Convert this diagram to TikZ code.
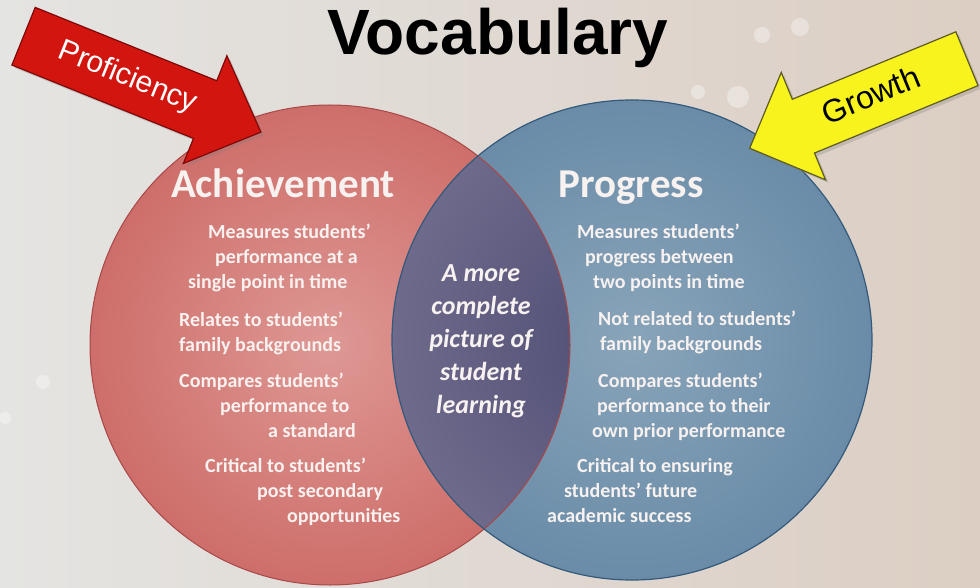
\documentclass[tikz,border=0pt]{standalone}
\usepackage{fontspec}
\setmainfont{Carlito}
\newfontfamily\arialfont{Liberation Sans}
\usetikzlibrary{shapes.arrows,shadows}

\definecolor{bgleft}{HTML}{E4E4E2}
\definecolor{bgright}{HTML}{DCCEC3}
\definecolor{achin}{HTML}{DE9894}
\definecolor{achout}{HTML}{CE6E6A}
\definecolor{achedge}{HTML}{A84848}
\definecolor{progin}{HTML}{88A4B9}
\definecolor{progout}{HTML}{6A8CA8}
\definecolor{progedge}{HTML}{34597A}
\definecolor{bothin}{HTML}{4E4C74}
\definecolor{bothout}{HTML}{6E6A8B}
\definecolor{txtwhite}{HTML}{F7F1F0}
\definecolor{profred}{HTML}{D3150F}
\definecolor{profedge}{HTML}{7E0808}
\definecolor{growyellow}{HTML}{F8F31C}
\definecolor{growedge}{HTML}{5E5B22}

\begin{document}
\begin{tikzpicture}[x=1pt, y=1pt,
  every node/.style = {inner sep=0pt},
  venn/.style = {circle, minimum size=480pt},
  heading/.style = {font=\fontsize{41}{41}\selectfont\bfseries, text=txtwhite, anchor=base},
  bullets/.style = {font=\fontsize{20}{25}\selectfont\bfseries, text=txtwhite, align=left, anchor=base west},
  middle/.style = {font=\fontsize{26}{33}\selectfont\bfseries\itshape, text=txtwhite, align=center, anchor=base},
  bigarrow/.style = {single arrow, anchor=tail, line width=1.2pt, single arrow head indent=0pt,
    drop shadow={opacity=0.3, shadow xshift=3pt, shadow yshift=-3pt}},
  ]
  \useasboundingbox (0,0) rectangle (980,-588);
  \shade[left color=bgleft, right color=bgright] (0,0) rectangle (980,-588);
  \fill[white, opacity=0.35] (762,-35) circle (8) (800,-27) circle (9) (698,-92) circle (7)
    (738,-97) circle (11) (43,-382) circle (7) (5,-418) circle (6);

  \node[venn, shade, inner color=achin, outer color=achout] (ach) at (330,-345) {};
  \node[venn, shade, inner color=progin, outer color=progout] (prog) at (632,-340) {};
  \begin{scope}
    \clip (ach.center) circle (240);
    \shade[inner color=bothin, outer color=bothout] (prog.center) circle (240);
  \end{scope}
  \draw[achedge, line width=1pt] (ach.center) circle (240);
  \draw[progedge, line width=1.2pt] (prog.center) circle (240);

  \node[heading] (achhead) at (283,-198) {Achievement};
  \node[bullets] (ach1) at (188,-288) {\hspace*{20pt}Measures students’\\ \hspace*{27pt}performance at a\\ single point in time};
  \node[bullets] (ach2) at (179,-351) {Relates to students’\\ family backgrounds};
  \node[bullets] (ach3) at (179,-437) {Compares students’\\ \hspace*{41pt}performance to\\ \hspace*{89pt}a standard};
  \node[bullets] (ach4) at (205,-522) {Critical to students’\\ \hspace*{52pt}post secondary\\ \hspace*{82pt}opportunities};

  \node[heading] (proghead) at (631,-198) {Progress};
  \node[bullets] (prog1) at (577,-288) {Measures students’\\ \hspace*{8pt}progress between\\ \hspace*{16pt}two points in time};
  \node[bullets] (prog2) at (598,-350) {Not related to students’\\ \hspace*{2pt}family backgrounds};
  \node[bullets] (prog3) at (592,-437) {\hspace*{6pt}Compares students’\\ \hspace*{5pt}performance to their\\ own prior performance};
  \node[bullets] (prog4) at (547,-522) {\hspace*{30pt}Critical to ensuring\\ \hspace*{17pt}students’ future\\ academic success};

  \node[middle] (both) at (481,-413) {A more\\ complete\\ picture of\\ student\\ learning};

  \node[bigarrow, fill=profred, draw=profedge, text=white, font=\arialfont\fontsize{30}{30}\selectfont,
    text height=21pt, text depth=6pt, inner ysep=17pt, inner xsep=6pt, minimum height=256pt,
    single arrow head extend=27pt, single arrow tip angle=88, rotate=-22] (prof) at (23,-36) {Proficiency};
  \node[bigarrow, fill=growyellow, draw=growedge, text=black, font=\arialfont\fontsize{32}{32}\selectfont,
    text height=23pt, text depth=7pt, inner ysep=13.5pt, inner xsep=6pt, minimum height=235pt,
    single arrow head extend=29pt, single arrow tip angle=90, shape border rotate=180, rotate=22.4] (grow) at (967.5,-58.5) {Growth};

  \node[font=\arialfont\bfseries\fontsize{64}{64}\selectfont, anchor=base] (title) at (498,-55) {Vocabulary};
\end{tikzpicture}
\end{document}
